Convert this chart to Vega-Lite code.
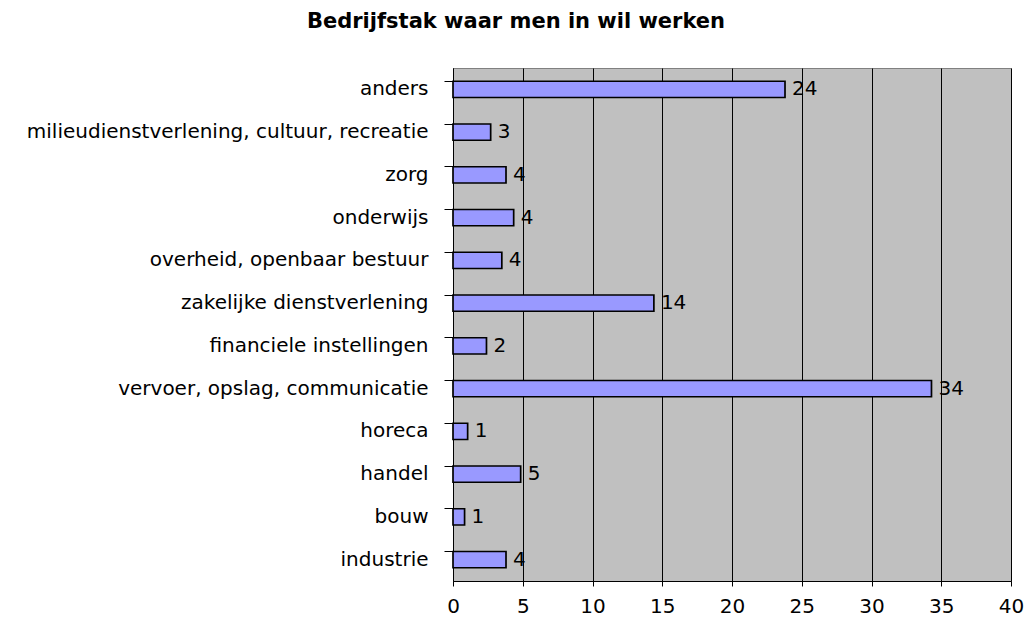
{
  "$schema": "https://vega.github.io/schema/vega-lite/v6.json",
  "width": 558,
  "height": 513,
  "autosize": {"type": "none"},
  "padding": {"left": 453, "top": 68, "right": 16, "bottom": 45},
  "background": "white",
  "title": {
    "text": "Bedrijfstak waar men in wil werken",
    "font": "DejaVu Sans",
    "fontSize": 21,
    "fontWeight": "bold",
    "color": "black",
    "anchor": "middle",
    "dx": -216,
    "offset": 36
  },
  "config": {
    "view": {"fill": "#C0C0C0", "stroke": "#808080", "strokeWidth": 1},
    "axis": {"labelFont": "DejaVu Sans", "labelFontSize": 20, "labelColor": "black", "domainColor": "black", "tickColor": "black"}
  },
  "data": {
    "values": [
      {"sector": "anders", "value": 23.8, "label": "24"},
      {"sector": "milieudienstverlening, cultuur, recreatie", "value": 2.7, "label": "3"},
      {"sector": "zorg", "value": 3.8, "label": "4"},
      {"sector": "onderwijs", "value": 4.35, "label": "4"},
      {"sector": "overheid, openbaar bestuur", "value": 3.5, "label": "4"},
      {"sector": "zakelijke dienstverlening", "value": 14.4, "label": "14"},
      {"sector": "financiele instellingen", "value": 2.4, "label": "2"},
      {"sector": "vervoer, opslag, communicatie", "value": 34.3, "label": "34"},
      {"sector": "horeca", "value": 1.05, "label": "1"},
      {"sector": "handel", "value": 4.85, "label": "5"},
      {"sector": "bouw", "value": 0.83, "label": "1"},
      {"sector": "industrie", "value": 3.8, "label": "4"}
    ]
  },
  "encoding": {
    "y": {
      "field": "sector",
      "type": "nominal",
      "sort": null,
      "scale": {"paddingInner": 0.62, "paddingOuter": 0.31},
      "axis": {"title": null, "bandPosition": 0, "tickSize": 9, "labelPadding": 16, "labelLimit": 0, "grid": false, "domain": true}
    },
    "x": {
      "field": "value",
      "type": "quantitative",
      "scale": {"domain": [0, 40]},
      "axis": {"title": null, "values": [0, 5, 10, 15, 20, 25, 30, 35, 40], "grid": true, "gridColor": "black", "gridOpacity": 1, "tickSize": 5, "labelPadding": 10, "labelFlush": false}
    }
  },
  "layer": [
    {"mark": {"type": "bar", "fill": "#9999FF", "stroke": "black", "strokeWidth": 1.7}},
    {
      "mark": {"type": "text", "align": "left", "baseline": "middle", "dx": 7, "font": "DejaVu Sans", "fontSize": 20, "color": "black"},
      "encoding": {"text": {"field": "label"}}
    }
  ]
}
